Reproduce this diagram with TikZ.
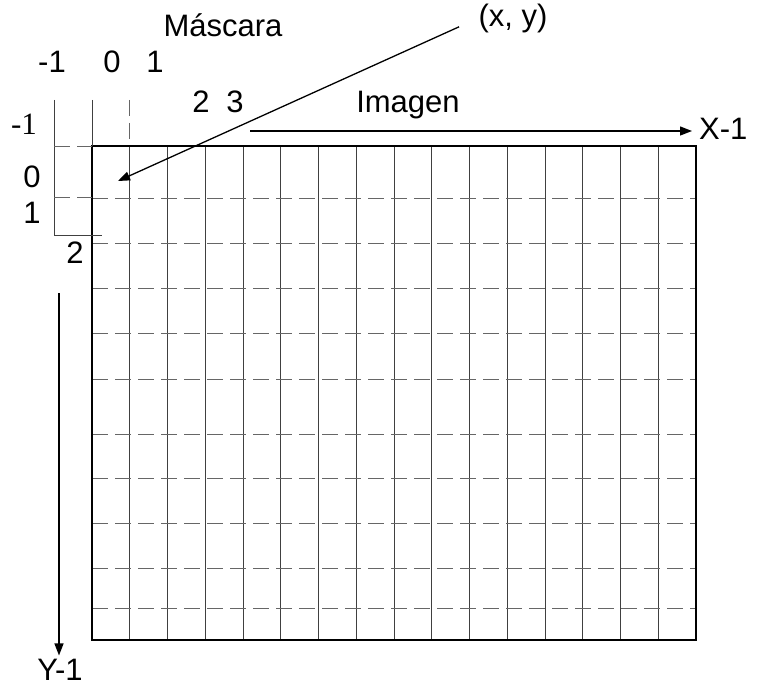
\documentclass[tikz,border=0pt]{standalone}
\usepackage{fontspec}
\setmainfont{Liberation Sans}
\newfontfamily\rowfont{Liberation Serif}
\usetikzlibrary{arrows.meta}

\begin{document}
\begin{tikzpicture}[x=1pt, y=-1pt, font=\fontsize{31}{36}\selectfont,
  lbl/.style={inner sep=2pt, anchor=base},
  vline/.style={black!75, line width=0.9pt},
  hline/.style={black!60, line width=0.9pt, dash pattern=on 16pt off 7pt},
  frame/.style={black, line width=1.6pt},
  arr/.style={-{Triangle[length=12pt, width=9pt]}, line width=1.3pt}]
\useasboundingbox (0,0) rectangle (757,687);
% image grid
\foreach \x in {1,...,15} \draw[vline] ({92+37.75*\x},146) -- ({92+37.75*\x},640);
\foreach \y in {198,243,288,333,379,434,478,523,568,608} \draw[hline] (92,\y) -- (696,\y);
\draw[frame] (92,146) rectangle (696,640);
% mask
\draw[vline] (54,100) -- (54,235) -- (102,235);
\draw[vline] (92,100) -- (92,146);
\draw[hline] (129.75,100) -- (129.75,146);
\draw[hline] (54,146) -- (92,146);
\draw[hline] (54,197) -- (92,197);
% labels
\node[lbl] (masc) at (223,37) {Máscara};
\node[lbl] (mc-1) at (52,73) {-1};
\node[lbl] (mc0) at (112,73) {0};
\node[lbl] (mc1) at (155,73) {1};
\node[lbl] (mc2) at (201,113) {2};
\node[lbl] (mc3) at (235,113) {3};
\node[lbl, font=\rowfont\fontsize{31}{36}\selectfont] (mr-1) at (24,135) {-1};
\node[lbl] (mr0) at (32,188) {0};
\node[lbl] (mr1) at (32,223) {1};
\node[lbl] (mr2) at (75,263) {2};
\node[lbl] (xy) at (513,27) {(x, y)};
\node[lbl] (img) at (408,113) {Imagen};
\node[lbl, anchor=base west] (xlab) at (697,140) {X-1};
\node[lbl] (ylab) at (60,680) {Y-1};
\coordinate (pix) at (118,181);
\coordinate (xs) at (250,131);
\coordinate (ys) at (59,293);
% arrows
\draw[arr, shorten <=19pt] (xy.west) -- (pix);
\draw[arr, shorten >=5pt] (xs) -- (xs -| xlab.west);
\draw[arr, shorten >=1pt] (ys) -- (ys |- ylab.north);
\end{tikzpicture}
\end{document}
